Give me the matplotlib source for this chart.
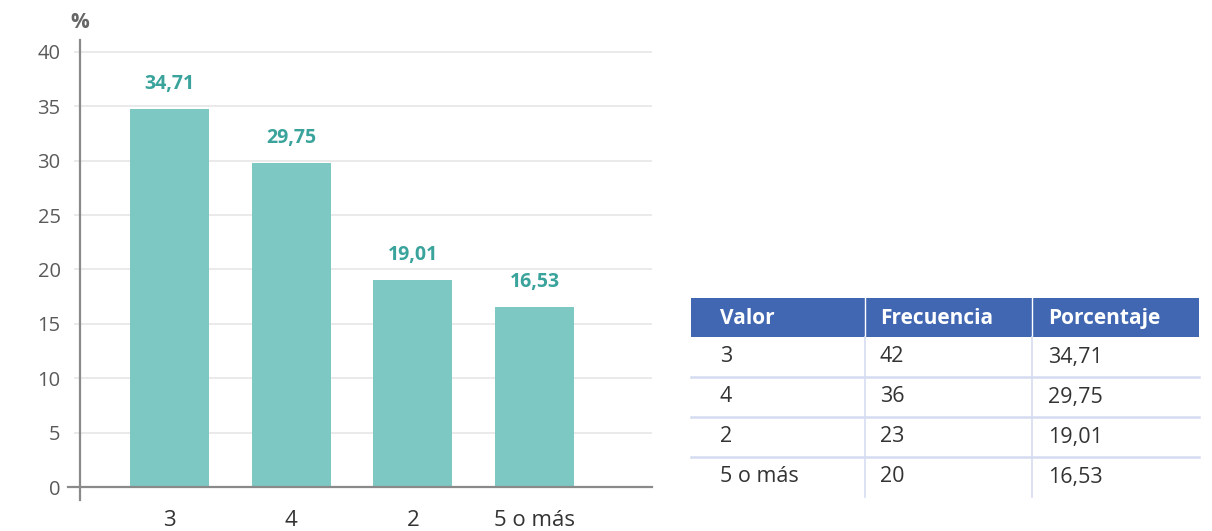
import matplotlib
matplotlib.use("Agg")
import matplotlib.pyplot as plt
from matplotlib.patches import Rectangle

plt.rcParams['font.family'] = ['Open Sans', 'DejaVu Sans']

categories = ["3", "4", "2", "5 o más"]
percentages = [34.71, 29.75, 19.01, 16.53]
frequencies = [42, 36, 23, 20]
value_labels = ["34,71", "29,75", "19,01", "16,53"]
yticks = [0, 5, 10, 15, 20, 25, 30, 35, 40]
table_header = ["Valor", "Frecuencia", "Porcentaje"]

W, H = 1212, 531
fig = plt.figure(figsize=(W / 100, H / 100), dpi=100)

BAR = "#7ec8c3"
LABEL = "#3aa39c"
GRID = "#e8e8e8"
AXIS = "#8a8a8a"

# ---- bar chart axes (pixel layout) ----
ax_l, ax_r = 80, 652
ax_t, ax_b = 40, 500
ax = fig.add_axes([ax_l / W, 1 - ax_b / H, (ax_r - ax_l) / W, (ax_b - ax_t) / H])
x = list(range(len(categories)))
ax.bar(x, percentages, width=0.65, color=BAR, zorder=2)
ax.set_xlim(-0.735, 3.965)
ax.set_ylim(-1.195, 41.1)
for v in yticks:
    if v > 0:
        ax.axhline(v, color=GRID, lw=1.3, zorder=0)
ax.plot([-0.835, 3.965], [0, 0], color=AXIS, lw=1.6, clip_on=False, zorder=3)
for s in ["top", "right", "bottom"]:
    ax.spines[s].set_visible(False)
ax.spines["left"].set_color(AXIS)
ax.spines["left"].set_linewidth(1.6)
ax.set_yticks(yticks)
ax.set_yticklabels([str(v) for v in yticks], fontsize=14.5, color="#5a5a5a")
ax.tick_params(axis="y", length=4, width=1.3, color=GRID, pad=10)
ax.set_xticks(x)
ax.set_xticklabels(categories, fontsize=16, color="#333333")
ax.tick_params(axis="x", length=0, pad=7)
for xi, v, lab in zip(x, percentages, value_labels):
    ax.annotate(lab, (xi, v), xytext=(0, 11), textcoords="offset points",
                ha="center", va="bottom", fontsize=14, fontweight="bold", color=LABEL)
fig.text(80 / W, 1 - 22 / H, "%", fontsize=15, fontweight="bold", color="#666666",
         ha="center", va="center")

# ---- table ----
tab = fig.add_axes([0, 0, 1, 1])
tab.set_xlim(0, W)
tab.set_ylim(H, 0)
tab.axis("off")
col_x = [691, 865, 1032, 1199]
row_y = [298, 337, 377, 417, 457, 497]
text_pad = [29, 15, 16]
HEAD = "#4267b2"
SEP = "#d5dcf2"
tab.add_patch(Rectangle((col_x[0], row_y[0]), col_x[-1] - col_x[0], row_y[1] - row_y[0],
                        color=HEAD, lw=0))
for c in range(1, 3):
    tab.plot([col_x[c], col_x[c]], [row_y[0], row_y[1]], color="white", lw=1)
    tab.plot([col_x[c], col_x[c]], [row_y[1], row_y[-1]], color=SEP, lw=1.2)
for r in range(2, 5):
    tab.plot([col_x[0], col_x[-1]], [row_y[r], row_y[r]], color=SEP, lw=1.8)
for c, h in enumerate(table_header):
    tab.text(col_x[c] + text_pad[c], (row_y[0] + row_y[1]) / 2 + 1, h, color="white",
             fontsize=15, fontweight="bold", ha="left", va="center")
rows = list(zip(categories, [str(f) for f in frequencies], value_labels))
for r, row in enumerate(rows):
    yc = (row_y[r + 1] + row_y[r + 2]) / 2
    for c, val in enumerate(row):
        tab.text(col_x[c] + text_pad[c], yc, val, color="#333333", fontsize=15.5,
                 ha="left", va="center")

fig.savefig("out.png", dpi=100)
